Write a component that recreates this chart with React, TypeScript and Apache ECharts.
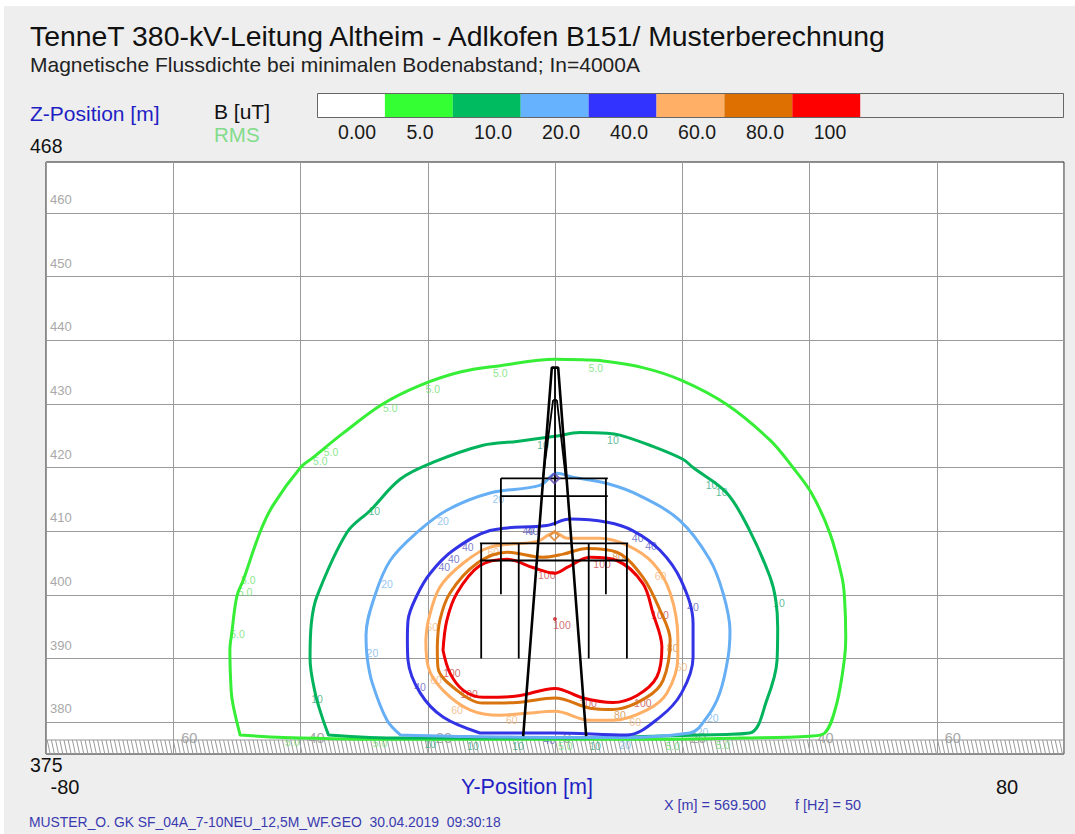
import React, { useEffect, useRef } from "react";
import * as echarts from "echarts";

const FONT = "'Liberation Sans', Arial, sans-serif";

const titleText = "TenneT 380-kV-Leitung Altheim - Adlkofen B151/ Musterberechnung";
const subtitleText = "Magnetische Flussdichte bei minimalen Bodenabstand; In=4000A";

const legendLabels = ["0.00", "5.0", "10.0", "20.0", "40.0", "60.0", "80.0", "100"];
const legendColors = ["#ffffff", "#33ff33", "#00bb5f", "#66b2ff", "#3333ff", "#ffb066", "#dd7000", "#ff0000"];
const legendLabelX = [357, 420, 493, 561, 629, 697, 765, 830];

const yTicks = [380, 390, 400, 410, 420, 430, 440, 450, 460];

const contour5 = [[-49.5,378.0],[-50.6,382.7],[-50.9,385.0],[-51.1,391.3],[-50.8,394.0],[-50.0,399.8],[-49.0,402.3],[-46.3,410.0],[-44.3,414.1],[-40.0,420.0],[-38.0,421.6],[-33.3,425.4],[-27.2,429.9],[-21.2,432.9],[-14.9,435.0],[-8.6,436.0],[0,437.0],[5.0,436.9],[7.1,436.8],[13.8,435.7],[19.9,433.7],[27.0,429.9],[33.8,424.3],[37.4,420.0],[40.3,416.0],[43.2,409.7],[45.1,402.8],[45.5,399.6],[45.7,393.3],[45.5,390.0],[44.3,383.0],[42.4,378.3],[40.0,377.8],[29.5,377.5],[16.5,377.3],[0,377.3],[-24.3,377.3],[-42.7,377.6]];
const contour10 = [[-35.6,378.0],[-36.6,380.8],[-37.7,384.6],[-38.5,390.0],[-38.3,395.5],[-37.4,399.8],[-32.7,409.8],[-29.0,413.3],[-24.3,418.2],[-19.2,420.8],[-11.3,423.5],[-6.0,424.1],[0,424.9],[3.9,425.5],[8.2,425.4],[10.2,425.1],[14.9,423.5],[20.1,421.3],[21.7,420.0],[27.0,416.0],[30.6,410.1],[33.8,402.8],[34.7,399.2],[35.0,394.9],[34.9,389.7],[33.3,383.5],[30.6,378.3],[22.8,378.0],[0,377.5],[-24.3,377.5]];
const contour20 = [[-24.3,378.0],[-26.4,380.3],[-28.7,386.1],[-29.5,390.0],[-29.7,393.7],[-28.3,399.9],[-25.9,405.4],[-21.7,409.8],[-17.0,413.3],[-10.2,416.0],[-2.4,417.2],[0.3,419.1],[2.8,418.5],[8.2,417.5],[13.3,415.6],[19.6,411.7],[24.3,405.6],[26.4,400.3],[27.5,394.4],[27.2,390.2],[25.9,384.6],[23.9,380.8],[21.2,378.3],[7.1,377.6],[0,377.6],[-16.5,377.8]];
const contour40 = [[-11.8,378.3],[-17.6,380.8],[-21.2,384.6],[-23.1,389.7],[-23.2,392.9],[-23.1,396.0],[-21.7,399.9],[-19.6,403.4],[-16.0,407.0],[-10.2,410.1],[-1.3,410.9],[2.4,411.9],[8.2,411.4],[12.2,410.1],[16.5,407.0],[19.8,402.3],[21.7,395.5],[21.7,390.2],[19.9,384.6],[16.5,380.8],[11.3,378.0],[0,378.3]];
const contour60 = [[-20.3,392.9],[-19.9,396.0],[-18.1,401.2],[-14.4,405.0],[-10.2,407.5],[-2.8,408.4],[0,409.8],[1.9,408.9],[7.1,408.9],[11.3,407.8],[15.4,405.0],[18.1,400.3],[19.3,393.3],[19.3,390.2],[17.6,384.6],[14.4,381.9],[9.1,380.3],[5.5,380.3],[0,381.7],[-4.4,381.4],[-8.6,381.1],[-13.3,381.9],[-17.6,385.0],[-19.9,388.6]];
const contour80 = [[-18.5,391.8],[-18.1,396.0],[-16.5,400.3],[-12.2,405.0],[-7.5,406.7],[-1.9,405.9],[1.3,406.4],[5.0,407.3],[9.7,406.7],[13.8,402.8],[16.5,397.6],[18.1,392.9],[17.0,386.6],[14.4,383.9],[9.1,382.0],[5.5,382.2],[0,383.8],[-6.0,383.1],[-11.3,383.0],[-15.4,385.0],[-18.4,388.6]];
const contour100 = [[-17.6,391.3],[-17.0,396.0],[-15.4,400.3],[-11.8,404.6],[-7.5,405.6],[-3.5,404.3],[0,403.4],[1.9,404.3],[5.5,405.9],[9.7,405.4],[13.8,401.8],[15.4,397.1],[16.8,391.8],[16.0,387.1],[12.9,384.2],[9.1,383.1],[4.4,383.8],[0,385.3],[-6.0,384.1],[-11.3,383.9],[-14.4,385.0],[-16.5,387.7]];

const labels5 = [[-8.6,434.9],[6.4,435.7],[-19.2,432.3],[-25.9,429.3],[-35.2,422.4],[-36.9,421.0],[-48.2,402.4],[-48.7,400.4],[-49.9,393.8],[-41.3,376.9],[-27.5,376.7],[1.6,376.2],[18.5,376.2],[26.4,376.4]];
const labels10 = [[-28.4,413.1],[-1.9,423.5],[9.1,424.4],[24.6,417.2],[26.2,416.1],[35.2,398.7],[-37.4,383.6],[-19.6,376.5],[-12.9,376.2],[-5.8,376.2],[6.3,376.2]];
const labels20 = [[-17.6,411.6],[-26.4,401.7],[-28.7,390.8],[-8.9,415.0],[24.8,380.6],[23.2,378.4],[11.0,376.4]];
const labels40 = [[-13.7,407.5],[-15.9,405.7],[-17.4,404.3],[-4.2,410.1],[-3.5,410.1],[13.0,409.0],[15.1,407.6],[21.7,398.1],[-21.2,385.5],[-0.9,377.2]];
const labels60 = [[-9.7,406.7],[16.6,402.9],[-19.3,394.9],[-18.7,386.6],[-15.4,381.9],[-6.8,380.3],[12.6,380.0],[19.9,388.6]];
const labels80 = [[9.9,405.9],[18.5,391.6],[10.2,381.1]];
const labels100 = [[-1.3,403.1],[7.4,404.8],[1.1,395.2],[16.5,396.8],[-16.2,387.7],[-13.5,384.4],[5.2,383.0],[13.8,383.0]];

const levels = [
  { name: "5.0", line: contour5, labels: labels5, color: "#35ee35", text: "#6fe06f" },
  { name: "10", line: contour10, labels: labels10, color: "#00b35c", text: "#35a97c" },
  { name: "20", line: contour20, labels: labels20, color: "#66aff5", text: "#7db6ea" },
  { name: "40", line: contour40, labels: labels40, color: "#3333e6", text: "#5a5abd" },
  { name: "60", line: contour60, labels: labels60, color: "#ffb066", text: "#f0b47c" },
  { name: "80", line: contour80, labels: labels80, color: "#d9730d", text: "#d08a40" },
  { name: "100", line: contour100, labels: labels100, color: "#ee0000", text: "#c84a4a" },
];

const towerLegs = [
  [[-5.0,377.8],[-0.5,435.7],[0.5,435.7],[4.9,377.8]],
];
const towerThin = [
  [[-0.3,430.6],[-1.9,418.3]],
  [[0.3,430.6],[1.7,418.3]],
  [[-0.3,430.6],[0.3,430.6]],
  [[0,435.7],[0,410.9]],
  [[-8.5,418.3],[8.3,418.3]],
  [[-8.5,415.5],[8.3,415.5]],
  [[-11.8,408.1],[11.5,408.1]],
  [[-11.8,405.4],[11.5,405.4]],
  [[-8.5,418.3],[-8.5,400.1]],
  [[8.0,418.3],[8.0,400.1]],
  [[-11.6,408.1],[-11.6,390.0]],
  [[-5.7,408.1],[-5.7,390.0]],
  [[5.3,408.1],[5.3,390.0]],
  [[11.3,408.1],[11.3,390.0]],
];
const conductorBlue = [[-0.1,418.3]];
const conductorOrange = [[-0.1,409.3]];
const conductorRed = [[0,396.2]];
const groundBand = [[-80,80,375,377.2]];

function renderGround(params: any, api: any) {
  const tl = api.coord([api.value(0), api.value(3)]);
  const br = api.coord([api.value(1), api.value(2)]);
  const children: any[] = [];
  for (let x = tl[0] - 3; x < br[0]; x += 4.2) {
    const x1 = Math.max(x, tl[0]);
    const x2 = Math.min(x + 3, br[0]);
    children.push({
      type: "line",
      shape: { x1, y1: tl[1], x2, y2: br[1] },
      style: { stroke: "#999999", lineWidth: 1 },
    });
  }
  children.push({
    type: "line",
    shape: { x1: tl[0], y1: tl[1], x2: br[0], y2: tl[1] },
    style: { stroke: "#999999", lineWidth: 1 },
  });
  return { type: "group", children };
}

function text(x: number, y: number, t: string, size: number, fill: string, align = "left") {
  return {
    type: "text",
    x,
    y,
    silent: true,
    style: { text: t, fontSize: size, fill, fontFamily: FONT, textAlign: align, textVerticalAlign: "middle" },
  };
}

export default function App() {
  const ref = useRef<HTMLDivElement>(null);
  useEffect(() => {
    const chart = echarts.init(ref.current!, undefined, { renderer: "svg" });
    const series: any[] = [];
    series.push({ type: "custom", data: groundBand, renderItem: renderGround, silent: true, z: 1, clip: true });
    levels.forEach((l) => {
      series.push({
        type: "scatter",
        name: "label " + l.name,
        data: l.labels,
        symbolSize: 0,
        silent: true,
        z: 2,
        label: {
          show: true,
          position: "inside",
          formatter: l.name,
          fontSize: 10.5,
          color: l.text,
          fontFamily: FONT,
        },
      });
    });
    levels.forEach((l, i) => {
      series.push({
        type: "line",
        name: l.name,
        data: l.line.concat([l.line[0]]),
        showSymbol: false,
        smooth: 0.35,
        silent: true,
        z: 3 + i * 0.01,
        lineStyle: { color: l.color, width: 3, join: "round", cap: "round" },
      });
    });
    towerThin.forEach((seg) => {
      series.push({ type: "line", data: seg, showSymbol: false, silent: true, z: 4, lineStyle: { color: "#000", width: 1.8 } });
    });
    towerLegs.forEach((seg) => {
      series.push({ type: "line", data: seg, showSymbol: false, silent: true, z: 4, lineStyle: { color: "#000", width: 2.6 } });
    });
    series.push({ type: "scatter", data: conductorBlue, symbol: "diamond", symbolSize: 10, silent: true, z: 5, itemStyle: { color: "rgba(0,0,0,0)", borderColor: "#5a45b0", borderWidth: 2 } });
    series.push({ type: "scatter", data: conductorOrange, symbol: "diamond", symbolSize: 9, silent: true, z: 5, itemStyle: { color: "rgba(0,0,0,0)", borderColor: "#d9822b", borderWidth: 2 } });
    series.push({ type: "scatter", data: conductorRed, symbol: "circle", symbolSize: 4, silent: true, z: 5, itemStyle: { color: "#cc2222" } });

    const graphics: any[] = [];
    legendColors.forEach((c, i) => {
      graphics.push({ type: "rect", shape: { x: 317 + i * 67.9, y: 93, width: 67.9, height: 24 }, style: { fill: c }, silent: true });
      graphics.push(text(legendLabelX[i], 132, legendLabels[i], 19.5, "#1a1a1a", "center"));
    });
    graphics.push({ type: "rect", shape: { x: 317.5, y: 93.5, width: 746, height: 24 }, style: { fill: "none", stroke: "#666", lineWidth: 1 }, silent: true });
    graphics.push(text(30, 113, "Z-Position [m]", 21, "#1f1fc4"));
    graphics.push(text(214, 111, "B [uT]", 21, "#111"));
    graphics.push(text(214, 134, "RMS", 20.5, "#82dc8c"));
    graphics.push(text(30, 146, "468", 19.5, "#111"));
    graphics.push(text(30, 765, "375", 19.5, "#111"));
    graphics.push(text(65, 787, "-80", 20, "#111", "center"));
    graphics.push(text(1007, 787, "80", 20, "#111", "center"));
    graphics.push(text(527, 787, "Y-Position [m]", 21.5, "#1f1fc4", "center"));
    graphics.push(text(664, 805, "X [m] = 569.500", 14.4, "#3a3ab0"));
    graphics.push(text(795, 805, "f [Hz] = 50", 14.4, "#3a3ab0"));
    graphics.push(text(29, 822, "MUSTER_O. GK SF_04A_7-10NEU_12,5M_WF.GEO  30.04.2019  09:30:18", 13.9, "#3a3ab0"));

    chart.setOption({
      animation: false,
      backgroundColor: "transparent",
      title: {
        text: titleText,
        subtext: subtitleText,
        left: 25,
        top: 17,
        itemGap: 4,
        textStyle: { fontFamily: FONT, fontSize: 28.4, fontWeight: "normal", color: "#111" },
        subtextStyle: { fontFamily: FONT, fontSize: 21, color: "#222" },
      },
      grid: { left: 46, top: 162, width: 1018, height: 592, show: true, backgroundColor: "#fff", borderColor: "#222", borderWidth: 1 },
      xAxis: {
        type: "value",
        min: -80,
        max: 80,
        interval: 20,
        axisLine: { show: false },
        axisTick: { show: false },
        splitLine: { show: true, lineStyle: { color: "#9a9a9a", width: 1 } },
        axisLabel: {
          inside: true,
          margin: 9,
          showMinLabel: false,
          showMaxLabel: false,
          align: "left",
          padding: [0, 0, 0, 8],
          fontSize: 14.5,
          color: "#a8a8a8",
          fontFamily: FONT,
          formatter: (v: number) => String(Math.abs(v)),
        },
      },
      yAxis: {
        type: "value",
        min: 375,
        max: 468,
        axisLine: { show: false },
        axisTick: { show: false, customValues: yTicks },
        splitLine: { show: true, lineStyle: { color: "#9a9a9a", width: 1 } },
        axisLabel: {
          inside: true,
          margin: 4,
          customValues: yTicks,
          verticalAlign: "bottom",
          padding: [0, 0, 7, 0],
          fontSize: 13,
          color: "#a8a8a8",
          fontFamily: FONT,
        },
      },
      graphic: graphics,
      series,
    });
    return () => chart.dispose();
  }, []);
  return (
    <div style={{ position: "fixed", left: 0, top: 0, width: 1075, height: 834, background: "#fff" }}>
      <div style={{ position: "absolute", left: 4, top: 6, right: 0, bottom: 0, background: "#eeeeee" }} />
      <div ref={ref} style={{ position: "absolute", left: 0, top: 0, width: 1075, height: 834 }} />
    </div>
  );
}
